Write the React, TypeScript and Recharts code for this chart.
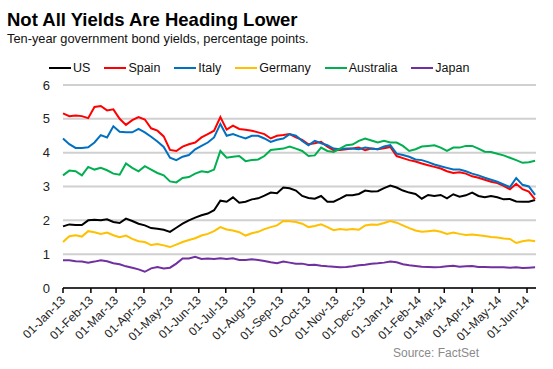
import { LineChart, Line, XAxis, YAxis, CartesianGrid } from "recharts";

// weekly observations, Jan 2013 - Jun 2014
const dates = [
  "2013-01-01", "2013-01-08", "2013-01-15", "2013-01-22", "2013-01-29", "2013-02-05", "2013-02-12", "2013-02-19",
  "2013-02-26", "2013-03-05", "2013-03-12", "2013-03-19", "2013-03-26", "2013-04-02", "2013-04-09", "2013-04-16",
  "2013-04-23", "2013-04-30", "2013-05-07", "2013-05-14", "2013-05-21", "2013-05-28", "2013-06-04", "2013-06-11",
  "2013-06-18", "2013-06-25", "2013-07-02", "2013-07-09", "2013-07-16", "2013-07-23", "2013-07-30", "2013-08-06",
  "2013-08-13", "2013-08-20", "2013-08-27", "2013-09-03", "2013-09-10", "2013-09-17", "2013-09-24", "2013-10-01",
  "2013-10-08", "2013-10-15", "2013-10-22", "2013-10-29", "2013-11-05", "2013-11-12", "2013-11-19", "2013-11-26",
  "2013-12-03", "2013-12-10", "2013-12-17", "2013-12-24", "2013-12-31", "2014-01-07", "2014-01-14", "2014-01-21",
  "2014-01-28", "2014-02-04", "2014-02-11", "2014-02-18", "2014-02-25", "2014-03-04", "2014-03-11", "2014-03-18",
  "2014-03-25", "2014-04-01", "2014-04-08", "2014-04-15", "2014-04-22", "2014-04-29", "2014-05-06", "2014-05-13",
  "2014-05-20", "2014-05-27", "2014-06-03", "2014-06-10",
];

const us = [
  1.82, 1.88, 1.86, 1.86, 2.0, 2.02, 2.0, 2.03, 1.95, 1.92, 2.05, 1.98, 1.9, 1.85, 1.77, 1.75,
  1.72, 1.66, 1.78, 1.9, 2.0, 2.08, 2.15, 2.2, 2.3, 2.58, 2.55, 2.68, 2.52, 2.55, 2.62, 2.65,
  2.73, 2.82, 2.8, 2.97, 2.95, 2.88, 2.72, 2.66, 2.64, 2.72, 2.55, 2.55, 2.64, 2.74, 2.74, 2.78,
  2.88, 2.85, 2.86, 2.95, 3.03, 2.97, 2.88, 2.82, 2.78, 2.64, 2.75, 2.72, 2.75, 2.65, 2.77, 2.7,
  2.74, 2.82, 2.72, 2.68, 2.72, 2.68, 2.62, 2.63, 2.56, 2.55, 2.55, 2.6,
];

const spain = [
  5.16, 5.08, 5.1, 5.08, 5.02, 5.35, 5.38, 5.25, 5.28, 5.0, 4.82, 4.96, 5.05, 4.98, 4.72, 4.65,
  4.48, 4.08, 4.05, 4.18, 4.25, 4.3, 4.45, 4.55, 4.65, 5.05, 4.68, 4.8, 4.7, 4.68, 4.65, 4.6,
  4.55, 4.42, 4.5, 4.52, 4.55, 4.45, 4.38, 4.25, 4.28, 4.32, 4.18, 4.07, 4.08, 4.1, 4.12, 4.15,
  4.07, 4.12, 4.1, 4.13, 4.17, 3.9, 3.84, 3.78, 3.74, 3.68, 3.63, 3.58, 3.53, 3.45, 3.4, 3.42,
  3.38, 3.3, 3.26, 3.2, 3.14, 3.1, 3.02, 2.92, 3.08, 2.92, 2.85, 2.62,
];

const italy = [
  4.42, 4.25, 4.14, 4.14, 4.16, 4.3, 4.52, 4.45, 4.78, 4.62, 4.6, 4.6, 4.7, 4.6, 4.47, 4.33,
  4.17, 3.85, 3.78, 3.88, 3.93, 4.1, 4.2, 4.3, 4.45, 4.85, 4.5, 4.55, 4.48, 4.42, 4.5, 4.5,
  4.42, 4.32, 4.38, 4.42, 4.55, 4.5, 4.35, 4.22, 4.35, 4.28, 4.22, 4.12, 4.1, 4.12, 4.12, 4.1,
  4.15, 4.12, 4.1, 4.18, 4.22, 3.97, 3.93, 3.88, 3.8, 3.78, 3.72, 3.65, 3.6, 3.55, 3.5, 3.5,
  3.45, 3.38, 3.33, 3.26, 3.2, 3.14, 3.06, 2.98, 3.25, 3.05, 3.0, 2.75,
];

const germany = [
  1.36, 1.53, 1.56, 1.52, 1.68, 1.65, 1.6, 1.64, 1.56, 1.5, 1.55, 1.45, 1.38, 1.36, 1.27, 1.3,
  1.26, 1.21, 1.28, 1.36, 1.42, 1.47, 1.55, 1.6, 1.68, 1.8, 1.73, 1.7, 1.65, 1.55, 1.62, 1.66,
  1.74, 1.8, 1.85, 1.98, 1.97, 1.95, 1.9, 1.8, 1.83, 1.88, 1.8, 1.71, 1.74, 1.72, 1.74, 1.72,
  1.85, 1.88, 1.87, 1.92, 1.98, 1.93, 1.85, 1.77, 1.7, 1.66, 1.68, 1.7, 1.66, 1.6, 1.64, 1.6,
  1.57, 1.58, 1.56, 1.54, 1.51, 1.49, 1.46, 1.45, 1.33, 1.38, 1.41, 1.38,
];

const australia = [
  3.33, 3.47, 3.45, 3.33, 3.58, 3.5, 3.55, 3.48, 3.38, 3.35, 3.68, 3.55, 3.45, 3.6, 3.5, 3.4,
  3.33, 3.15, 3.12, 3.25, 3.28, 3.38, 3.45, 3.42, 3.5, 4.05, 3.85, 3.88, 3.9, 3.75, 3.78, 3.8,
  3.9, 4.08, 4.1, 4.12, 4.18, 4.12, 4.05, 3.9, 3.92, 4.15, 4.05, 4.02, 4.12, 4.22, 4.24, 4.35,
  4.42, 4.36, 4.3, 4.35, 4.3, 4.3, 4.2, 4.05, 4.1, 4.18, 4.2, 4.22, 4.15, 4.05, 4.15, 4.15,
  4.2, 4.2, 4.12, 4.03, 4.02, 3.97, 3.92, 3.85, 3.78, 3.7, 3.72, 3.76,
];

const japan = [
  0.82, 0.82, 0.79, 0.78, 0.75, 0.78, 0.82, 0.79, 0.73, 0.7, 0.64, 0.6, 0.55, 0.48, 0.58, 0.62,
  0.58, 0.6, 0.72, 0.87, 0.87, 0.92, 0.86, 0.87, 0.86, 0.88, 0.86, 0.88, 0.83, 0.83, 0.85, 0.83,
  0.8, 0.76, 0.73, 0.78, 0.75, 0.72, 0.72, 0.68, 0.69, 0.66, 0.64, 0.63, 0.61, 0.62, 0.64, 0.67,
  0.69, 0.72, 0.73, 0.75, 0.78, 0.76, 0.7, 0.67, 0.65, 0.63, 0.62, 0.61, 0.62, 0.64, 0.66, 0.63,
  0.64, 0.65, 0.62, 0.62, 0.61, 0.61, 0.61, 0.6, 0.61, 0.59, 0.6, 0.61,
];

const tickDates = [
  "2013-01-01", "2013-02-01", "2013-03-01", "2013-04-01", "2013-05-01", "2013-06-01", "2013-07-01", "2013-08-01",
  "2013-09-01", "2013-10-01", "2013-11-01", "2013-12-01", "2014-01-01", "2014-02-01", "2014-03-01", "2014-04-01",
  "2014-05-01", "2014-06-01",
];
const tickLabels = [
  "01-Jan-13", "01-Feb-13", "01-Mar-13", "01-Apr-13", "01-May-13", "01-Jun-13", "01-Jul-13", "01-Aug-13",
  "01-Sep-13", "01-Oct-13", "01-Nov-13", "01-Dec-13", "01-Jan-14", "01-Feb-14", "01-Mar-14", "01-Apr-14",
  "01-May-14", "01-Jun-14",
];
const yTicks = [0, 1, 2, 3, 4, 5, 6];

const series = [
  { key: "US", values: us, color: "#000000" },
  { key: "Spain", values: spain, color: "#FF0000" },
  { key: "Italy", values: italy, color: "#0070C0" },
  { key: "Germany", values: germany, color: "#FFC000" },
  { key: "Australia", values: australia, color: "#00B050" },
  { key: "Japan", values: japan, color: "#7030A0" },
];

const data = dates.map((d, i) => {
  const row: Record<string, number> = { t: Date.parse(d) };
  series.forEach((s) => (row[s.key] = s.values[i]));
  return row;
});

const tickValues = tickDates.map((d) => Date.parse(d));
const FONT = 'Arial, "Liberation Sans", sans-serif';

const DateTick = (props: any) => {
  const { x, y, payload } = props;
  const label = tickLabels[tickValues.indexOf(payload.value)];
  return (
    <g transform={`translate(${x + 3},${y + 6})`}>
      <text textAnchor="end" transform="rotate(-45)" fontSize={12} fill="#222" fontFamily={FONT}>
        {label}
      </text>
    </g>
  );
};

export default function App() {
  return (
    <div style={{ position: "absolute", left: 0, top: 0, width: 553, height: 369, background: "#fff", fontFamily: FONT }}>
      <div style={{ position: "absolute", left: 7, top: 11, fontSize: 18.5, lineHeight: "18px", fontWeight: "bold", color: "#000" }}>
        Not All Yields Are Heading Lower
      </div>
      <div style={{ position: "absolute", left: 7, top: 33, fontSize: 12.8, lineHeight: "12.5px", color: "#111" }}>
        Ten-year government bond yields, percentage points.
      </div>
      {/* legend */}
      <div
        style={{
          position: "absolute", left: 49, top: 60, height: 15, display: "flex", alignItems: "center",
          fontSize: 12.5, color: "#111", whiteSpace: "nowrap",
        }}
      >
        {series.map((s) => (
          <div key={s.key} style={{ display: "flex", alignItems: "center", marginRight: 14 }}>
            <span style={{ display: "inline-block", width: 22, height: 2, background: s.color }} />
            <span style={{ marginLeft: 2 }}>{s.key}</span>
          </div>
        ))}
      </div>
      <LineChart width={553} height={369} data={data} margin={{ top: 85, right: 17, bottom: 0, left: 0 }}>
        <CartesianGrid vertical={false} stroke="#d0d0d0" strokeWidth={2} />
        <XAxis
          dataKey="t"
          type="number"
          domain={[Date.parse("2013-01-01"), Date.parse("2014-06-11")]}
          ticks={tickValues}
          tick={<DateTick />}
          tickSize={5}
          tickMargin={2}
          height={81}
          interval={0}
          axisLine={{ stroke: "#000", strokeWidth: 1.5 }}
          tickLine={{ stroke: "#000", strokeWidth: 1.5 }}
        />
        <YAxis
          domain={[0, 6]}
          ticks={yTicks}
          width={63}
          axisLine={false}
          tickLine={false}
          tickSize={0}
          tickMargin={13}
          tick={{ fontSize: 13, fill: "#222", fontFamily: FONT }}
        />
        {series.map((s) => (
          <Line
            key={s.key}
            dataKey={s.key}
            stroke={s.color}
            strokeWidth={2}
            dot={false}
            type="linear"
            isAnimationActive={false}
          />
        ))}
      </LineChart>
      <div style={{ position: "absolute", left: 393, top: 346, fontSize: 12, color: "#8a8a8a" }}>Source: FactSet</div>
    </div>
  );
}
